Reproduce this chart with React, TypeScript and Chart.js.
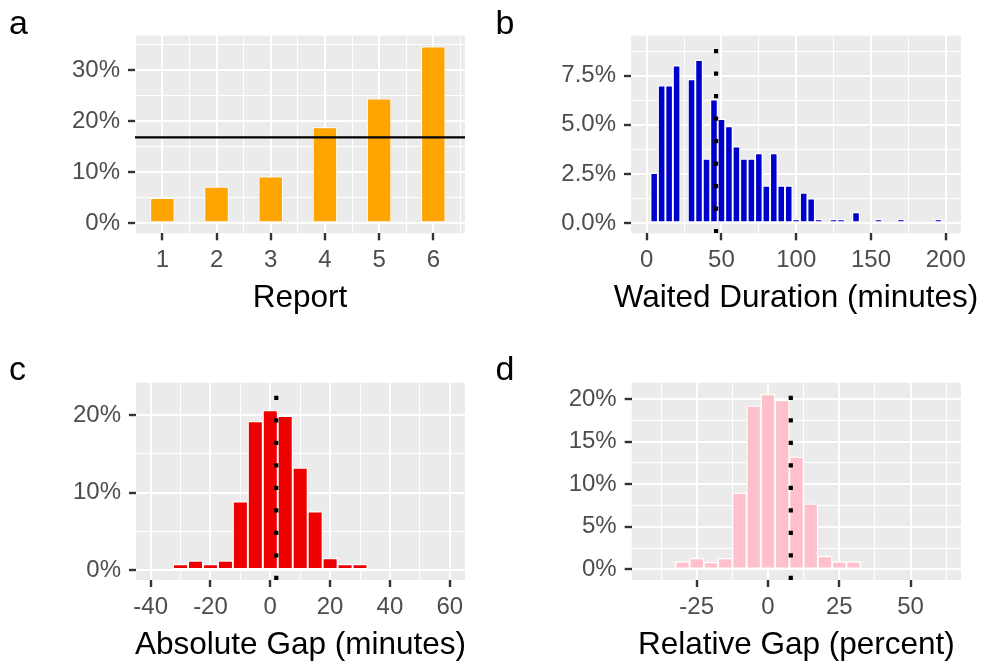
import React, { useEffect, useRef } from 'react';
import { Chart, registerables } from 'chart.js';

Chart.register(...registerables);

const FONT = "'Liberation Sans', Arial, Helvetica, sans-serif";

// ---------- Panel a : share by report ----------
const A_REPORTS = [1, 2, 3, 4, 5, 6];
const A_SHARE = [4.95, 7.15, 9.15, 18.8, 24.4, 34.6];
const A_REFERENCE = 16.8;
const A_X_MAJOR = [1, 2, 3, 4, 5, 6];
const A_X_MINOR = [0.5, 1.5, 2.5, 3.5, 4.5, 5.5, 6.5];
const A_Y_MAJOR = [0, 10, 20, 30];
const A_Y_MINOR = [5, 15, 25, 35];

// ---------- Panel b : waited duration ----------
const B_BINS = [
  5, 10, 15, 20, 25, 30, 35, 40, 45, 50, 55, 60, 65, 70, 75, 80, 85, 90, 95, 100,
  105, 110, 115, 120, 125, 130, 135, 140, 145, 150, 155, 160, 165, 170, 175, 180, 185, 190, 195,
];
const B_SHARE = [
  2.55, 7.0, 7.0, 8.02, 0, 7.31, 8.3, 3.27, 6.29, 5.3, 4.93, 3.9, 3.27, 3.27, 3.56, 1.91, 3.56, 1.91, 1.91, 0.2,
  1.55, 1.26, 0.2, 0, 0.2, 0.2, 0, 0.56, 0, 0, 0.2, 0, 0, 0.2, 0, 0, 0, 0, 0.2,
];
const B_MEAN = 46.4;
const B_X_MAJOR = [0, 50, 100, 150, 200];
const B_X_MINOR = [25, 75, 125, 175];
const B_Y_MAJOR = [0, 2.5, 5, 7.5];
const B_Y_MINOR = [1.25, 3.75, 6.25, 8.75];

// ---------- Panel c : absolute gap ----------
const C_BINS = [-40, -35, -30, -25, -20, -15, -10, -5, 0, 5, 10, 15, 20, 25, 30, 35, 40, 45, 50, 55, 60];
const C_SHARE = [0, 0.1, 0.75, 1.18, 0.75, 1.18, 8.85, 19.2, 20.65, 19.88, 13.2, 7.56, 1.52, 0.75, 0.75, 0, 0, 0.1, 0, 0.1, 0];
const C_MEAN = 2.0;
const C_X_MAJOR = [-40, -20, 0, 20, 40, 60];
const C_X_MINOR = [-30, -10, 10, 30, 50];
const C_Y_MAJOR = [0, 10, 20];
const C_Y_MINOR = [5, 15];

// ---------- Panel d : relative gap ----------
const D_BINS = [-40, -35, -30, -25, -20, -15, -10, -5, 0, 5, 10, 15, 20, 25, 30, 35, 40, 45, 50, 55, 60];
const D_SHARE = [0.1, 0.1, 0.9, 1.3, 0.83, 1.3, 8.95, 19.2, 20.55, 19.85, 13.2, 7.68, 1.53, 0.9, 0.9, 0, 0, 0.1, 0, 0.1, 0.1];
const D_MEAN = 8.0;
const D_X_MAJOR = [-25, 0, 25, 50];
const D_X_MINOR = [-37.5, -12.5, 12.5, 37.5, 62.5];
const D_Y_MAJOR = [0, 5, 10, 15, 20];
const D_Y_MINOR = [2.5, 7.5, 12.5, 17.5];

type PanelSpec = {
  id: string;
  xTitle: string;
  bins: number[];
  values: number[];
  color: string;
  barPct: number;
  border: number;
  whiteBelow: number;
  xMin: number; xMax: number; yMin: number; yMax: number;
  xMajor: number[]; xMinor: number[]; yMajor: number[]; yMinor: number[];
  yFmt: (v: number) => string;
  area: { l: number; r: number; t: number; b: number };
  hline?: number;
  vline?: number;
};

const PANELS: PanelSpec[] = [
  {
    id: 'a', xTitle: 'Report', bins: A_REPORTS, values: A_SHARE, color: '#FFA500',
    barPct: 0.9, border: 1, whiteBelow: 0,
    xMin: 0.495, xMax: 6.585, yMin: -1.96, yMax: 36.7,
    xMajor: A_X_MAJOR, xMinor: A_X_MINOR, yMajor: A_Y_MAJOR, yMinor: A_Y_MINOR,
    yFmt: (v) => `${v}%`, area: { l: 135, r: 465, t: 35.7, b: 233.3 }, hline: A_REFERENCE,
  },
  {
    id: 'b', xTitle: 'Waited Duration (minutes)', bins: B_BINS, values: B_SHARE, color: '#0000CD',
    barPct: 1, border: 1.3, whiteBelow: 0,
    xMin: -10.5, xMax: 210.2, yMin: -0.51, yMax: 9.53,
    xMajor: B_X_MAJOR, xMinor: B_X_MINOR, yMajor: B_Y_MAJOR, yMinor: B_Y_MINOR,
    yFmt: (v) => `${v.toFixed(1)}%`, area: { l: 631, r: 961, t: 35.7, b: 233.3 }, vline: B_MEAN,
  },
  {
    id: 'c', xTitle: 'Absolute Gap (minutes)', bins: C_BINS, values: C_SHARE, color: '#EE0000',
    barPct: 1, border: 1.3, whiteBelow: 0.15,
    xMin: -44.9, xMax: 65.1, yMin: -1.29, yMax: 24.2,
    xMajor: C_X_MAJOR, xMinor: C_X_MINOR, yMajor: C_Y_MAJOR, yMinor: C_Y_MINOR,
    yFmt: (v) => `${v}%`, area: { l: 136, r: 465, t: 382.7, b: 580 }, vline: C_MEAN,
  },
  {
    id: 'd', xTitle: 'Relative Gap (percent)', bins: D_BINS, values: D_SHARE, color: '#FFC0CB',
    barPct: 1, border: 1.3, whiteBelow: 0.15,
    xMin: -47.8, xMax: 67.7, yMin: -1.25, yMax: 21.9,
    xMajor: D_X_MAJOR, xMinor: D_X_MINOR, yMajor: D_Y_MAJOR, yMinor: D_Y_MINOR,
    yFmt: (v) => `${v}%`, area: { l: 631.7, r: 961, t: 382.7, b: 580 }, vline: D_MEAN,
  },
];

const W = 987;
const H = 664;
const Y_AXIS_W = 135;
const X_AXIS_H = 78.6;
const TITLE_BASELINE_OFFSET = 73.8;

const panelBg = {
  id: 'panelBg',
  beforeDraw(chart: any) {
    const { ctx, chartArea: a } = chart;
    ctx.save();
    ctx.fillStyle = '#EBEBEB';
    ctx.fillRect(a.left, a.top, a.right - a.left, a.bottom - a.top);
    ctx.restore();
  },
};

// x-axis title drawn without Chart.js's maxWidth squeeze (the titles are wider than the panels)
const wideTitle = {
  id: 'wideTitle',
  afterDraw(chart: any, _args: any, opts: any) {
    if (!opts || !opts.text) return;
    const { ctx, chartArea: a } = chart;
    ctx.save();
    ctx.font = `31.5px ${FONT}`;
    ctx.fillStyle = '#000000';
    ctx.textAlign = 'center';
    ctx.textBaseline = 'alphabetic';
    ctx.fillText(opts.text, (a.left + a.right) / 2, a.bottom + TITLE_BASELINE_OFFSET);
    ctx.restore();
  },
};

function axisOptions(p: PanelSpec, dir: 'x' | 'y') {
  const major = dir === 'x' ? p.xMajor : p.yMajor;
  const minor = dir === 'x' ? p.xMinor : p.yMinor;
  const all = [...major, ...minor].sort((a, b) => a - b);
  const isMajor = (v: number) => major.includes(v);
  const base: any = {
    type: 'linear',
    min: dir === 'x' ? p.xMin : p.yMin,
    max: dir === 'x' ? p.xMax : p.yMax,
    bounds: 'data',
    offset: false,
    afterBuildTicks: (s: any) => {
      s.ticks = all.map((v) => ({ value: v }));
    },
    grid: {
      offset: false,
      color: '#FFFFFF',
      lineWidth: (c: any) => (c.tick && isMajor(c.tick.value) ? 2 : 1),
      drawTicks: true,
      tickLength: 7,
      tickWidth: 2.4,
      tickColor: (c: any) => (c.tick && isMajor(c.tick.value) ? '#333333' : 'rgba(0,0,0,0)'),
    },
    border: { display: false },
    ticks: {
      autoSkip: false,
      maxRotation: 0,
      minRotation: 0,
      padding: 8,
      color: '#4D4D4D',
      font: { family: FONT, size: 24, lineHeight: 1 },
      callback: (v: number) => (isMajor(v) ? (dir === 'x' ? String(v) : p.yFmt(v)) : ''),
    },
    title: { display: false },
  };
  if (dir === 'x') {
    base.afterFit = (s: any) => {
      s.height = X_AXIS_H;
    };
  } else {
    base.afterFit = (s: any) => {
      s.width = Y_AXIS_W;
    };
  }
  return base;
}

function buildConfig(p: PanelSpec): any {
  const datasets: any[] = [];
  if (p.vline !== undefined) {
    datasets.push({
      type: 'line',
      data: [
        { x: p.vline, y: p.yMin },
        { x: p.vline, y: p.yMax },
      ],
      borderColor: '#000000',
      borderWidth: 4.2,
      borderDash: [4.2, 18.3],
      borderCapStyle: 'butt',
      pointRadius: 0,
      order: 0,
    });
  }
  if (p.hline !== undefined) {
    datasets.push({
      type: 'line',
      data: [
        { x: p.xMin, y: p.hline },
        { x: p.xMax, y: p.hline },
      ],
      borderColor: '#000000',
      borderWidth: 2.2,
      pointRadius: 0,
      order: 0,
    });
  }
  datasets.push({
    type: 'bar',
    data: p.bins.map((b, i) => ({ x: b, y: p.values[i] })),
    backgroundColor: (c: any) => {
      const y = c.raw ? c.raw.y : 0;
      return y > 0 && y < p.whiteBelow ? '#FFFFFF' : p.color;
    },
    borderColor: '#FFFFFF',
    borderWidth: p.border,
    borderSkipped: false,
    barPercentage: p.barPct,
    categoryPercentage: 1,
    order: 1,
  });
  return {
    type: 'bar',
    data: { datasets },
    options: {
      animation: false,
      responsive: false,
      devicePixelRatio: 1,
      events: [],
      layout: {
        padding: {
          left: p.area.l - Y_AXIS_W,
          right: W - p.area.r,
          top: p.area.t,
          bottom: H - p.area.b - X_AXIS_H,
        },
      },
      plugins: {
        legend: { display: false },
        tooltip: { enabled: false },
        wideTitle: { text: p.xTitle },
      },
      scales: { x: axisOptions(p, 'x'), y: axisOptions(p, 'y') },
    },
    plugins: [panelBg, wideTitle],
  };
}

function Panel({ spec }: { spec: PanelSpec }) {
  const ref = useRef<HTMLCanvasElement | null>(null);
  useEffect(() => {
    if (!ref.current) return;
    const chart = new Chart(ref.current, buildConfig(spec));
    return () => chart.destroy();
  }, [spec]);
  return (
    <canvas
      ref={ref}
      width={W}
      height={H}
      style={{ position: 'absolute', left: 0, top: 0, width: W, height: H }}
    />
  );
}

const LETTERS = [
  { text: 'a', left: 9, top: 4.5 },
  { text: 'b', left: 495.5, top: 4.5 },
  { text: 'c', left: 9, top: 350.5 },
  { text: 'd', left: 495.5, top: 350.5 },
];

export default function App() {
  useEffect(() => {
    document.body.style.margin = '0';
  }, []);
  return (
    <div style={{ position: 'absolute', left: 0, top: 0, width: W, height: H, background: '#FFFFFF', overflow: 'hidden' }}>
      {PANELS.map((p) => (
        <Panel key={p.id} spec={p} />
      ))}
      {LETTERS.map((l) => (
        <div
          key={l.text}
          style={{
            position: 'absolute',
            left: l.left,
            top: l.top,
            fontFamily: FONT,
            fontSize: 34,
            lineHeight: '34px',
            color: '#000000',
          }}
        >
          {l.text}
        </div>
      ))}
    </div>
  );
}
